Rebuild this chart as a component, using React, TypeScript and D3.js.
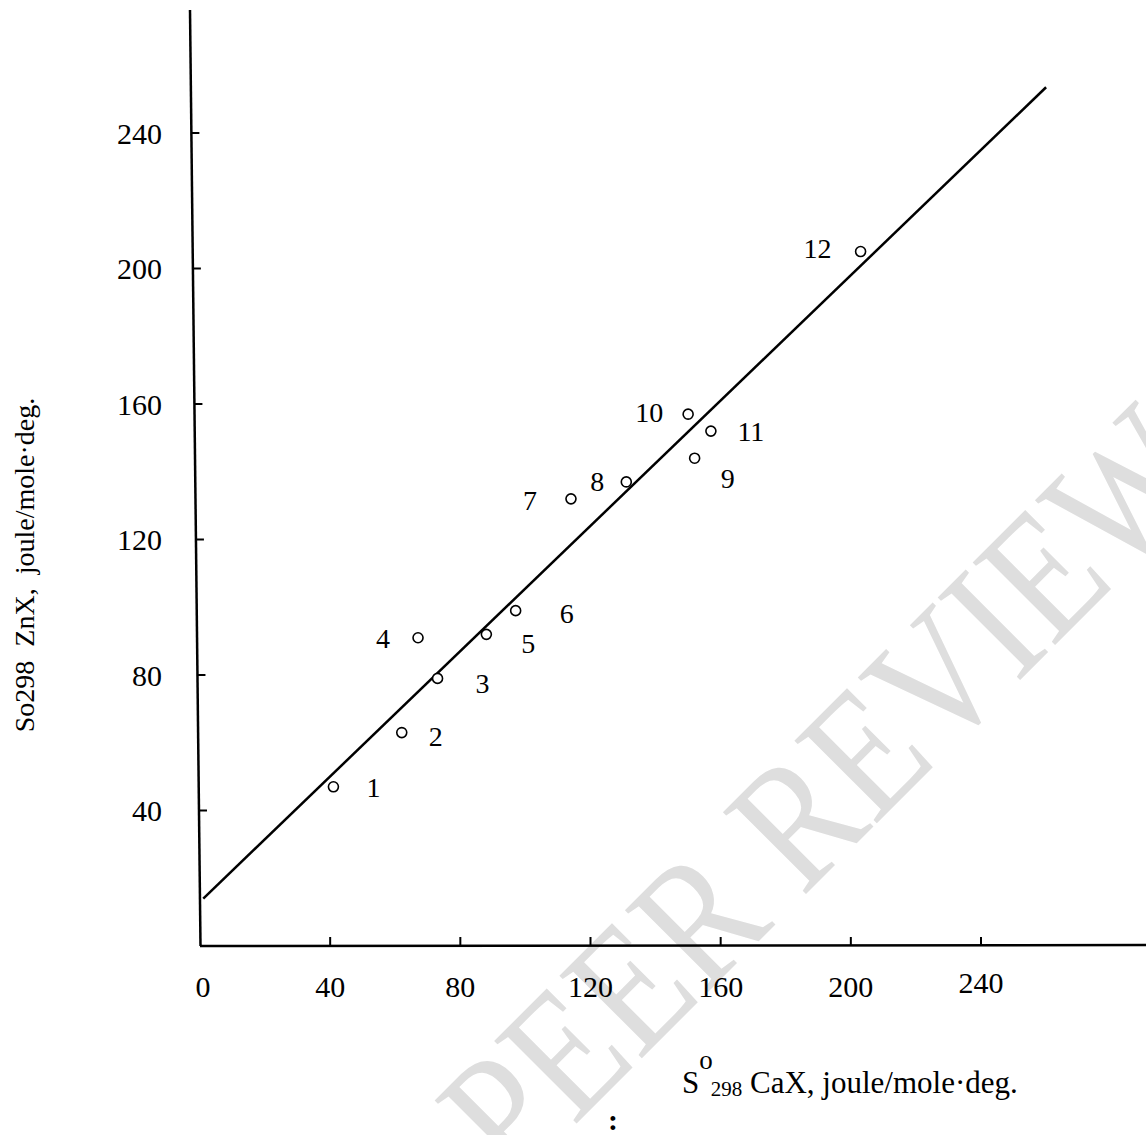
import React, { useEffect, useRef } from 'react';
import * as d3 from 'd3';

// S°298 of CaX (x) vs ZnX (y), joule/mole·deg
const caEntropy = [41, 62, 73, 67, 88, 97, 114, 131, 152, 150, 157, 203];
const znEntropy = [47, 63, 79, 91, 92, 99, 132, 137, 144, 157, 152, 205];
const pointNames = ['1', '2', '3', '4', '5', '6', '7', '8', '9', '10', '11', '12'];
const fitLine: [number, number][] = [[1, 14], [260, 253.5]];
const xTickValues = [0, 40, 80, 120, 160, 200, 240];
const yTickValues = [40, 80, 120, 160, 200, 240];

// where each number sits relative to its point, px
const labelOffsets = [
	[40, 0], [34, 4], [45, 5], [-35, 0], [42, 9], [51, 3],
	[-41, 1], [-29, -1], [33, 20], [-39, -2], [40, 0], [-43, -3]
];

const width = 1146;
const height = 1135;
const font = '"Liberation Serif", "Times New Roman", serif';

const drawChart = (node: SVGSVGElement) => {
	const svg = d3.select(node);
	svg.selectAll('*').remove();

	const x = d3.scaleLinear().domain([0, 240]).range([200, 981]);
	const y = d3.scaleLinear().domain([0, 240]).range([946, 133]);

	// the hand drawn y axis leans a little
	const axisTop = [190, 10];
	const axisBottom = [200.5, 946];
	const axisX = (py: number) => axisTop[0] + (axisBottom[0] - axisTop[0]) * (py - axisTop[1]) / (axisBottom[1] - axisTop[1]);

	// watermark, a bit condensed
	svg.append('text')
		.attr('transform', 'translate(514,1186) rotate(-45) scale(0.85,1)')
		.attr('font-family', font)
		.attr('font-size', 178)
		.attr('fill', '#dedede')
		.text('PEER REVIEW');

	// y axis
	svg.append('line')
		.attr('x1', axisTop[0]).attr('y1', axisTop[1])
		.attr('x2', axisBottom[0]).attr('y2', axisBottom[1])
		.attr('stroke', '#000').attr('stroke-width', 2.5);

	svg.append('g')
		.selectAll('line')
		.data(yTickValues)
		.join('line')
		.attr('x1', (d) => axisX(y(d)))
		.attr('x2', (d) => axisX(y(d)) + 8)
		.attr('y1', (d) => y(d))
		.attr('y2', (d) => y(d))
		.attr('stroke', '#000').attr('stroke-width', 2);

	svg.append('g')
		.selectAll('text')
		.data(yTickValues)
		.join('text')
		.attr('x', 162)
		.attr('y', (d) => y(d))
		.attr('dy', '0.35em')
		.attr('text-anchor', 'end')
		.attr('font-family', font)
		.attr('font-size', 30)
		.text((d) => d);

	// x axis
	svg.append('line')
		.attr('x1', x(0)).attr('y1', 946)
		.attr('x2', width).attr('y2', 945)
		.attr('stroke', '#000').attr('stroke-width', 2.5);

	svg.append('g')
		.selectAll('line')
		.data(xTickValues.filter((d) => d > 0))
		.join('line')
		.attr('x1', (d) => x(d))
		.attr('x2', (d) => x(d))
		.attr('y1', 946)
		.attr('y2', 937)
		.attr('stroke', '#000').attr('stroke-width', 2);

	svg.append('g')
		.selectAll('text')
		.data(xTickValues)
		.join('text')
		.attr('x', (d) => x(d) + (d === 0 ? 3 : 0))
		.attr('y', (d) => d === 240 ? 993 : 997)
		.attr('text-anchor', 'middle')
		.attr('font-family', font)
		.attr('font-size', 30)
		.text((d) => d);

	// regression line
	svg.append('path')
		.datum(fitLine)
		.attr('d', d3.line<[number, number]>().x((d) => x(d[0])).y((d) => y(d[1])))
		.attr('fill', 'none')
		.attr('stroke', '#000')
		.attr('stroke-width', 2.5);

	// points
	const pts = caEntropy.map((c, i) => ({ c, z: znEntropy[i], name: pointNames[i], off: labelOffsets[i] }));

	svg.append('g')
		.selectAll('circle')
		.data(pts)
		.join('circle')
		.attr('cx', (d) => x(d.c))
		.attr('cy', (d) => y(d.z))
		.attr('r', 5)
		.attr('fill', '#fff')
		.attr('stroke', '#000')
		.attr('stroke-width', 1.6);

	svg.append('g')
		.selectAll('text')
		.data(pts)
		.join('text')
		.attr('x', (d) => x(d.c) + d.off[0])
		.attr('y', (d) => y(d.z) + d.off[1])
		.attr('dy', '0.35em')
		.attr('text-anchor', 'middle')
		.attr('font-family', font)
		.attr('font-size', 28)
		.text((d) => d.name);

	// axis titles
	const xTitle = svg.append('text')
		.attr('x', 682)
		.attr('y', 1093)
		.attr('font-family', font)
		.attr('font-size', 31);
	xTitle.append('tspan').text('S');
	xTitle.append('tspan').attr('dy', -24).attr('font-size', 27).text('o');
	xTitle.append('tspan').attr('dy', 27).attr('dx', -2).attr('font-size', 21).text('298');
	xTitle.append('tspan').attr('dy', -3).text(' CaX, joule/mole·deg.');

	svg.append('text')
		.attr('transform', 'translate(34,565) rotate(-90)')
		.attr('text-anchor', 'middle')
		.attr('font-family', font)
		.attr('font-size', 28)
		.style('white-space', 'pre')
		.text('So298  ZnX,  joule/mole·deg.');

	svg.append('text')
		.attr('x', 613)
		.attr('y', 1130)
		.attr('text-anchor', 'middle')
		.attr('font-family', font)
		.attr('font-weight', 'bold')
		.attr('font-size', 30)
		.text(':');
};

const App = () => {
	const ref = useRef<SVGSVGElement>(null);

	useEffect(() => {
		if (ref.current) drawChart(ref.current);
	}, []);

	return (
		<svg
			ref={ ref }
			width={ width }
			height={ height }
			style={ { position: 'absolute', left: 0, top: 0, background: '#fff' } }
		/>
	);
};

export default App;
